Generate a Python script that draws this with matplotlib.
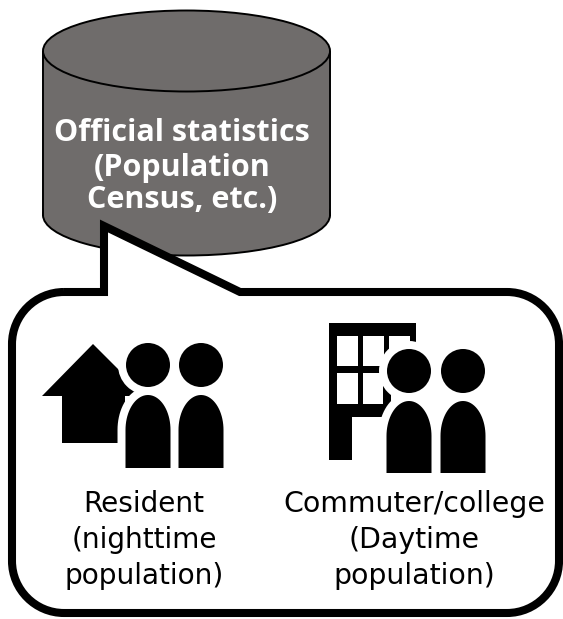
#!/usr/bin/env python3
import numpy as np
import matplotlib
matplotlib.use("Agg")
import matplotlib.pyplot as plt
from matplotlib.path import Path
from matplotlib.patches import PathPatch, Polygon, Rectangle, Circle, Ellipse

W, H = 563, 619
GREY = "#6f6c6b"

title_lines = ["Official statistics", "(Population", "Census, etc.)"]
title_y = [133, 168, 200]
left_lines = ["Resident", "(nighttime", "population)"]
left_y = [504, 540, 576]
right_lines = ["Commuter/college", "(Daytime", "population)"]
right_y = [504, 540, 576]

fig = plt.figure(figsize=(W / 100, H / 100), dpi=100)
ax = fig.add_axes([0, 0, 1, 1])
ax.set_xlim(0, W)
ax.set_ylim(H, 0)
ax.axis("off")


def person(cx, cy, top, bottom, halo=False):
	# head plus arched body, halo is the white gap cut out of what's behind
	t = np.linspace(np.pi, 0, 40)
	bx = cx + 22.5 * np.cos(t)
	by = top + 35 - 35 * np.sin(t)
	xs = np.r_[bx, cx + 22.5, cx - 22.5]
	ys = np.r_[by, bottom, bottom]
	if halo:
		ax.add_patch(Circle((cx, cy), 22, fc="white", ec="white", lw=11.5, zorder=3))
		ax.add_patch(Polygon(np.c_[xs, ys], fc="white", ec="white", lw=11.5, joinstyle="round", zorder=3))
	ax.add_patch(Circle((cx, cy), 22, fc="black", ec="none", zorder=4))
	ax.add_patch(Polygon(np.c_[xs, ys], fc="black", ec="none", zorder=4))


# cylinder
ax.add_patch(Ellipse((186.5, 215), 287, 81, fc=GREY, ec="black", lw=1.4, zorder=1))
ax.add_patch(Rectangle((44, 52), 285, 163, fc=GREY, ec="none", zorder=1))
ax.plot([43, 43], [52, 215], color="black", lw=1.4, zorder=1)
ax.plot([330, 330], [52, 215], color="black", lw=1.4, zorder=1)
ax.add_patch(Ellipse((186.5, 51), 287, 81, fc=GREY, ec="black", lw=1.4, zorder=1))

# speech bubble
L, R, T, B, r = 12, 559, 292, 613, 52
k = 0.45
verts = [
	(L + r, T), (104, T), (104, 226), (240, T), (R - r, T),
	(R - r * k, T), (R, T + r * k), (R, T + r),
	(R, B - r),
	(R, B - r * k), (R - r * k, B), (R - r, B),
	(L + r, B),
	(L + r * k, B), (L, B - r * k), (L, B - r),
	(L, T + r),
	(L, T + r * k), (L + r * k, T), (L + r, T),
]
codes = [Path.MOVETO, Path.LINETO, Path.LINETO, Path.LINETO, Path.LINETO,
	Path.CURVE4, Path.CURVE4, Path.CURVE4, Path.LINETO,
	Path.CURVE4, Path.CURVE4, Path.CURVE4, Path.LINETO,
	Path.CURVE4, Path.CURVE4, Path.CURVE4, Path.LINETO,
	Path.CURVE4, Path.CURVE4, Path.CURVE4]
ax.add_patch(PathPatch(Path(verts, codes), fc="white", ec="black", lw=5.8, joinstyle="miter", zorder=2))

# house
ax.add_patch(Polygon([(93, 344), (42, 396), (62, 396), (62, 443), (125, 443), (125, 396), (145, 396)],
	fc="black", ec="none", zorder=2.5))
person(148, 365, 395, 468, halo=True)
person(201, 365, 395, 468)

# office building
ax.add_patch(Rectangle((329, 323), 87, 19, fc="black", ec="none", zorder=2.5))
ax.add_patch(Rectangle((329, 323), 23, 137, fc="black", ec="none", zorder=2.5))
ax.add_patch(Rectangle((329, 323), 62, 94, fc="black", ec="none", zorder=2.5))
for wx, wy, ww, wh in [(337, 336, 21, 30), (363, 336, 21, 30), (337, 373, 21, 31), (363, 373, 20, 31), (389, 336, 21, 20)]:
	ax.add_patch(Rectangle((wx, wy), ww, wh, fc="white", ec="none", zorder=2.6))
person(409, 371, 401, 473, halo=True)
person(463, 371, 401, 473)

for s, y in zip(title_lines, title_y):
	ax.text(182, y, s, color="white", fontsize=22, fontweight="bold", family="Open Sans", ha="center", va="center", zorder=5)
for s, y in zip(left_lines, left_y):
	ax.text(144, y, s, color="black", fontsize=20.2, family="DejaVu Sans", ha="center", va="center", zorder=5)
for s, y in zip(right_lines, right_y):
	ax.text(414, y, s, color="black", fontsize=20.4, family="DejaVu Sans", ha="center", va="center", zorder=5)

fig.savefig("out.png", dpi=100, facecolor="white")
